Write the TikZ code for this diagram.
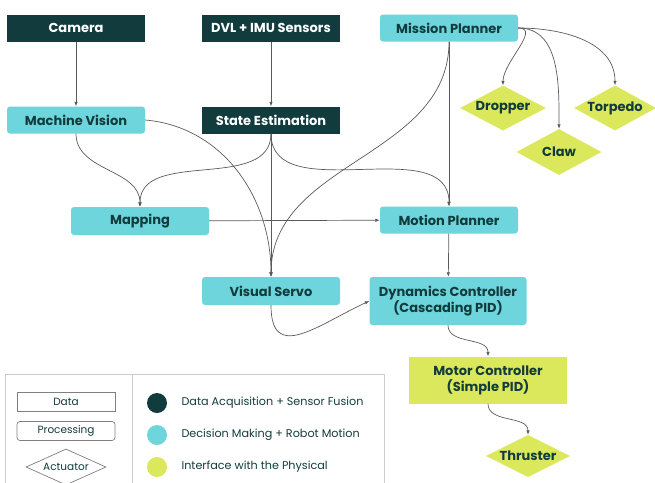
\documentclass[tikz,border=0pt]{standalone}
\usepackage{fontspec}
\setmainfont{Poppins}
\usetikzlibrary{shapes.geometric,arrows.meta}
\definecolor{sensecol}{HTML}{123B3D}
\definecolor{motioncol}{HTML}{6DD5DB}
\definecolor{physcol}{HTML}{DCE85B}
\definecolor{wirecol}{HTML}{5A5A5A}
\tikzset{
    block/.style={rectangle, minimum width=138pt, minimum height=27pt, align=center,
        inner sep=2pt, font=\bfseries\fontsize{13}{16}\selectfont},
    sensebox/.style={block, fill=sensecol, text=white},
    decidebox/.style={block, fill=motioncol, text=sensecol, rounded corners=3pt},
    physbox/.style={block, fill=physcol, text=sensecol},
    actuator/.style={diamond, aspect=1.9, inner sep=0pt, fill=physcol, text=sensecol,
        font=\bfseries\fontsize{13}{16}\selectfont},
    link/.style={draw=wirecol, line width=0.7pt, -{Latex[length=4.5pt,width=3.5pt]}},
    keybox/.style={draw=gray, line width=0.7pt, minimum width=98pt, minimum height=19pt,
        inner sep=1pt, font=\fontsize{10.5}{12}\selectfont, text=sensecol},
    keytext/.style={anchor=west, font=\fontsize{11.2}{13}\selectfont, text=sensecol}
}
\begin{document}
\begin{tikzpicture}[x=1pt, y=-1pt]
    \useasboundingbox (0,0) rectangle (655,482);

    % sources
    \node[sensebox] (cam) at (76,28) {Camera};
    \node[sensebox] (dvl) at (271,28) {DVL + IMU Sensors};
    \node[decidebox] (mission) at (449,28) {Mission Planner};

    \node[decidebox] (vision) at (76,120) {Machine Vision};
    \node[sensebox] (state) at (271,120) {State Estimation};

    \node[actuator, minimum width=86pt, minimum height=45pt] (dropper) at (503,108) {Dropper};
    \node[actuator, minimum width=85pt, minimum height=46pt] (claw) at (559,152) {Claw};
    \node[actuator, minimum width=82pt, minimum height=45pt] (torpedo) at (615,108) {Torpedo};

    \node[decidebox, minimum height=28pt] (mapping) at (140,221) {Mapping};
    \node[decidebox] (motion) at (449,220) {Motion Planner};
    \node[decidebox, minimum height=28pt] (servo) at (271,291) {Visual Servo};
    \node[decidebox, minimum width=157pt, minimum height=48pt] (dynamics) at (448,301)
        {Dynamics Controller\\(Cascading PID)};
    \node[physbox, minimum width=158pt, minimum height=47pt] (motor) at (488,380)
        {Motor Controller\\(Simple PID)};
    \node[actuator, minimum width=84pt, minimum height=42pt] (thruster) at (528,456) {Thruster};

    % connections
    \draw[link] (cam) -- (vision);
    \draw[link] (dvl) -- (state);
    \draw[link] (vision.south) to[out=-90, in=90] (mapping.north);
    \draw[link] (state.south) to[out=-90, in=90] (mapping.north);
    \draw[link] (state.south) to[out=-90, in=90] (motion.north);
    \draw[link] (state) -- (servo);
    \draw[link] (vision.east) to[out=-5, in=90] (servo.north);
    \draw[link] (mission.south) to[out=-90, in=90] (servo.north);
    \draw[link] (mission) -- (motion);
    \draw[link] (mapping) -- (motion);
    \draw[link] (motion) -- (dynamics);
    \draw[link] (servo.south) to[out=-90, in=205, looseness=1.5] (dynamics.west);
    \draw[link] (dynamics.south) to[out=-90, in=90] (motor.north);
    \draw[link] (motor.south) to[out=-90, in=90] (thruster.north);
    \draw[link] (mission.east) to[out=0, in=90] (dropper.north);
    \draw[link] (mission.east) to[out=0, in=90] (claw.north);
    \draw[link] (mission.east) to[out=0, in=90] (torpedo.north);

    % legend
    \draw[draw=gray!40, line width=0.8pt] (5,374) rectangle (384,495);
    \draw[draw=gray!40, line width=0.8pt] (132,374) -- (132,495);
    \node[keybox] (kdata) at (66,402) {Data};
    \node[keybox, rounded corners=3pt] (kproc) at (66,431) {Processing};
    \node[diamond, draw=gray, line width=0.7pt, aspect=2.3, minimum width=80pt,
        minimum height=36pt, inner sep=0pt, text=sensecol,
        font=\fontsize{10.5}{12}\selectfont] (kact) at (66,467) {Actuator};
    \foreach \y/\c/\t in {403/sensecol/Data Acquisition + Sensor Fusion,
                          435/motioncol/Decision Making + Robot Motion,
                          467/physcol/Interface with the Physical} {
        \fill[\c] (157,\y) circle (10pt);
        \node[keytext] at (178,\y) {\t};
    }
\end{tikzpicture}
\end{document}
